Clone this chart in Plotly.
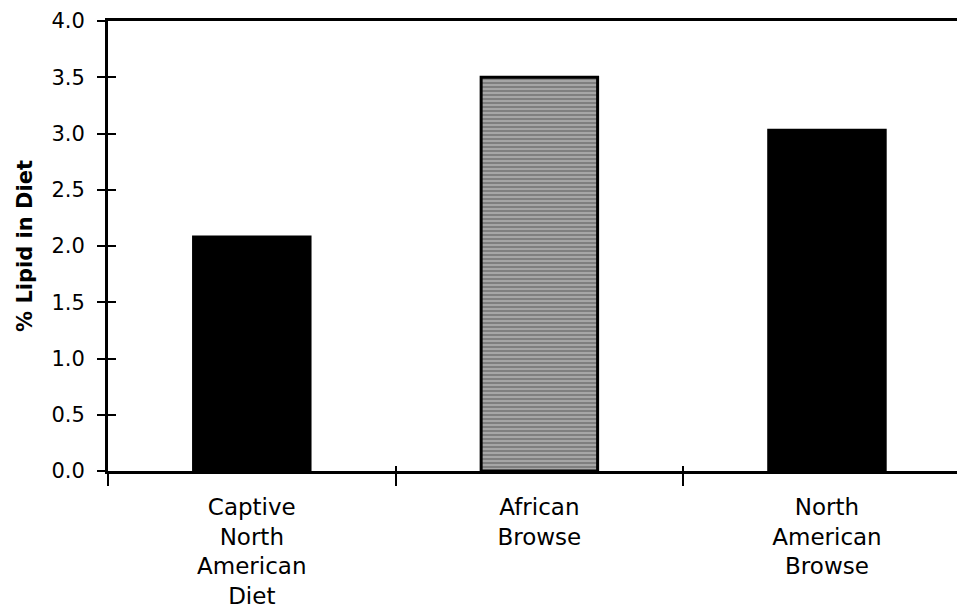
import plotly.graph_objects as go

categories = ["Captive<br>North<br>American<br>Diet", "African<br>Browse", "North<br>American<br>Browse"]
values = [2.08, 3.50, 3.03]
y_ticks = [0.0, 0.5, 1.0, 1.5, 2.0, 2.5, 3.0, 3.5, 4.0]
y_title = "% Lipid in Diet"

bar_colors = ["#000000", "#a6a6a6", "#000000"]
patterns = ["", "-", ""]

FONT = "DejaVu Sans, Arial, sans-serif"

fig = go.Figure()
fig.add_trace(go.Bar(
    x=categories, y=values, width=0.405,
    marker=dict(
        color=bar_colors,
        line=dict(color="#000000", width=3),
        pattern=dict(shape=patterns, fgcolor="#000000", bgcolor="#cfcfcf", size=4, solidity=0.4),
    ),
    showlegend=False, hoverinfo="skip",
))
# invisible trace used to draw the inner halves of the crossing ticks
fig.add_trace(go.Scatter(
    x=categories, y=values, xaxis="x2", yaxis="y2", mode="markers",
    marker=dict(opacity=0), showlegend=False, hoverinfo="skip",
))

xr = [-0.5, 2.48]
# page body has an 8px margin, so the figure is a little smaller and offset
fig.update_layout(
    width=957, height=608,
    margin=dict(l=100, r=0, t=13, b=145, autoexpand=False),
    paper_bgcolor="white", plot_bgcolor="white",
    font=dict(family=FONT, color="#000000"),
    xaxis=dict(
        type="category", categoryorder="array", categoryarray=categories,
        range=xr, tickson="boundaries", ticks="outside", ticklen=12, tickwidth=2,
        tickcolor="#000", showline=True, linecolor="#000", linewidth=3, mirror=True,
        showgrid=False, zeroline=False, tickfont=dict(size=23, family=FONT),
        ticklabelstandoff=13, automargin=False,
    ),
    xaxis2=dict(
        type="category", categoryorder="array", categoryarray=categories,
        range=xr, overlaying="x", tickson="boundaries", ticks="inside", ticklen=5,
        tickwidth=2, tickcolor="#000", showticklabels=False, showline=False,
        showgrid=False, zeroline=False, automargin=False,
    ),
    yaxis=dict(
        range=[0, 4], tickvals=y_ticks, tickformat=".1f", ticks="outside", ticklen=8,
        tickwidth=2, tickcolor="#000", showline=True, linecolor="#000", linewidth=3,
        showgrid=False, zeroline=False, tickfont=dict(size=21, family=FONT),
        ticklabelstandoff=8, automargin=False,
        title=dict(text="<b>" + y_title + "</b>", font=dict(size=21, family=FONT), standoff=14),
    ),
    yaxis2=dict(
        range=[0, 4], tickvals=y_ticks, overlaying="y", ticks="inside", ticklen=8,
        tickwidth=2, tickcolor="#000", showticklabels=False, showline=False,
        showgrid=False, zeroline=False, automargin=False,
    ),
)

fig.write_html("out.html")
